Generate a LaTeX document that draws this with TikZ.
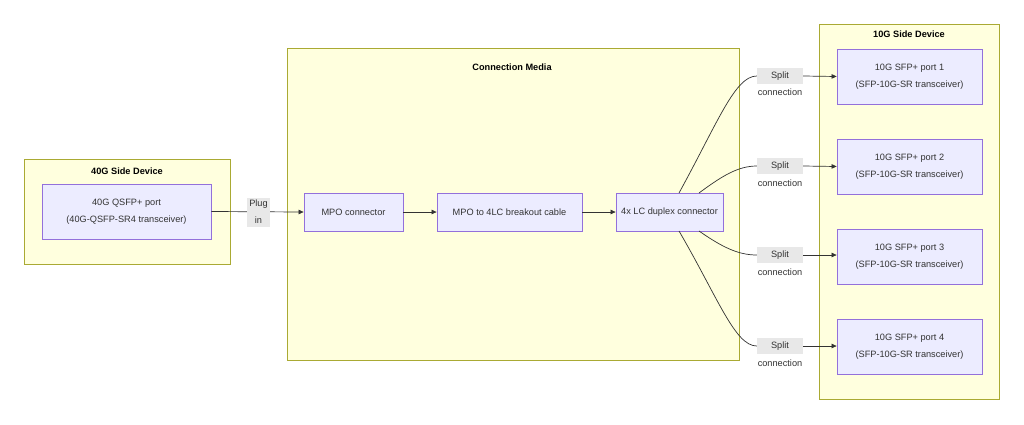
\documentclass[tikz,border=0pt]{standalone}
\usepackage{fontspec}
\setmainfont{Liberation Sans}
\usetikzlibrary{arrows.meta}
\definecolor{clfill}{HTML}{FFFFDE}
\definecolor{clline}{HTML}{AAAA33}
\definecolor{ndfill}{HTML}{ECECFF}
\definecolor{ndline}{HTML}{9370DB}
\definecolor{edge}{HTML}{333333}
\definecolor{lbl}{HTML}{E8E8E8}
\tikzset{
  cluster/.style={draw=clline, fill=clfill, line width=0.8pt},
  ctitle/.style={font=\fontsize{9.2}{11}\selectfont\bfseries, text=black},
  box/.style={draw=ndline, fill=ndfill, line width=0.8pt, align=center, text=edge,
    font=\fontsize{9.2}{17}\selectfont, inner sep=0pt},
  lab/.style={fill=lbl, text=edge, font=\fontsize{9.2}{17}\selectfont, inner sep=0pt, align=center},
  ltxt/.style={text=edge, font=\fontsize{9.2}{11}\selectfont, inner sep=0pt},
  conn/.style={draw=edge, line width=0.7pt},
  arr/.style={conn, -{Triangle[length=5pt,width=4.5pt]}},
}
\begin{document}
\begin{tikzpicture}[x=1pt,y=-1pt]
\useasboundingbox[fill=white] (0,0) rectangle (1024,424);
% clusters
\draw[cluster] (24,159) rectangle (230,264);
\node[ctitle] (t40) at (127,171) {40G Side Device};
\draw[cluster] (287,48) rectangle (739,360);
\node[ctitle] (tcm) at (512,67) {Connection Media};
\draw[cluster] (819,24) rectangle (999,399);
\node[ctitle] (t10) at (909,34) {10G Side Device};
% nodes
\node[box, minimum width=169pt, minimum height=55pt] (p40) at (126.5,211.5) {40G QSFP+ port\\(40G-QSFP-SR4 transceiver)};
\node[box, minimum width=99pt, minimum height=38pt] (mpo) at (353.5,212) {MPO connector};
\node[box, minimum width=145pt, minimum height=38pt] (brk) at (509.5,212) {MPO to 4LC breakout cable};
\node[box, minimum width=107pt, minimum height=38pt] (lc) at (669.5,212) {4x LC duplex connector};
\node[box, minimum width=145pt, minimum height=55pt] (q1) at (909.5,76.5) {10G SFP+ port 1\\(SFP-10G-SR transceiver)};
\node[box, minimum width=145pt, minimum height=55pt] (q2) at (909.5,166.5) {10G SFP+ port 2\\(SFP-10G-SR transceiver)};
\node[box, minimum width=145pt, minimum height=55pt] (q3) at (909.5,256.5) {10G SFP+ port 3\\(SFP-10G-SR transceiver)};
\node[box, minimum width=145pt, minimum height=55pt] (q4) at (909.5,347) {10G SFP+ port 4\\(SFP-10G-SR transceiver)};
% edges
\draw[arr] (p40.east) -- (mpo.west);
\node[lab, minimum width=23pt, minimum height=29pt] (plug) at (258.5,212) {Plug\\in};
\draw[arr] (mpo.east) -- (brk.west);
\draw[arr] (brk.east) -- (lc.west);
% split labels
\node[lab, minimum width=46pt, minimum height=16pt] (s1) at (780,76) {Split};
\node[ltxt] (c1) at (780,92) {connection};
\node[lab, minimum width=46pt, minimum height=16pt] (s2) at (780,166) {Split};
\node[ltxt] (c2) at (780,183) {connection};
\node[lab, minimum width=46pt, minimum height=16pt] (s3) at (780,255) {Split};
\node[ltxt] (c3) at (780,272) {connection};
\node[lab, minimum width=46pt, minimum height=16pt] (s4) at (780,346) {Split};
\node[ltxt] (c4) at (780,363) {connection};
\coordinate (o1) at (679,193);
\coordinate (i1) at (699,193);
\coordinate (i2) at (699,231);
\coordinate (o2) at (679,231);
\draw[conn] (o1) .. controls (718,122) and (735,76) .. (s1.west);
\draw[conn] (i1) .. controls (722,176) and (738,166) .. (s2.west);
\draw[conn] (i2) .. controls (722,247) and (738,255) .. (s3.west);
\draw[conn] (o2) .. controls (718,298) and (735,346) .. (s4.west);
\draw[arr] (s1.east) -- (q1.west);
\draw[arr] (s2.east) -- (q2.west);
\draw[arr] (s3.east) -- (q3.west |- s3.east);
\draw[arr] (s4.east) -- (q4.west |- s4.east);
\end{tikzpicture}
\end{document}
